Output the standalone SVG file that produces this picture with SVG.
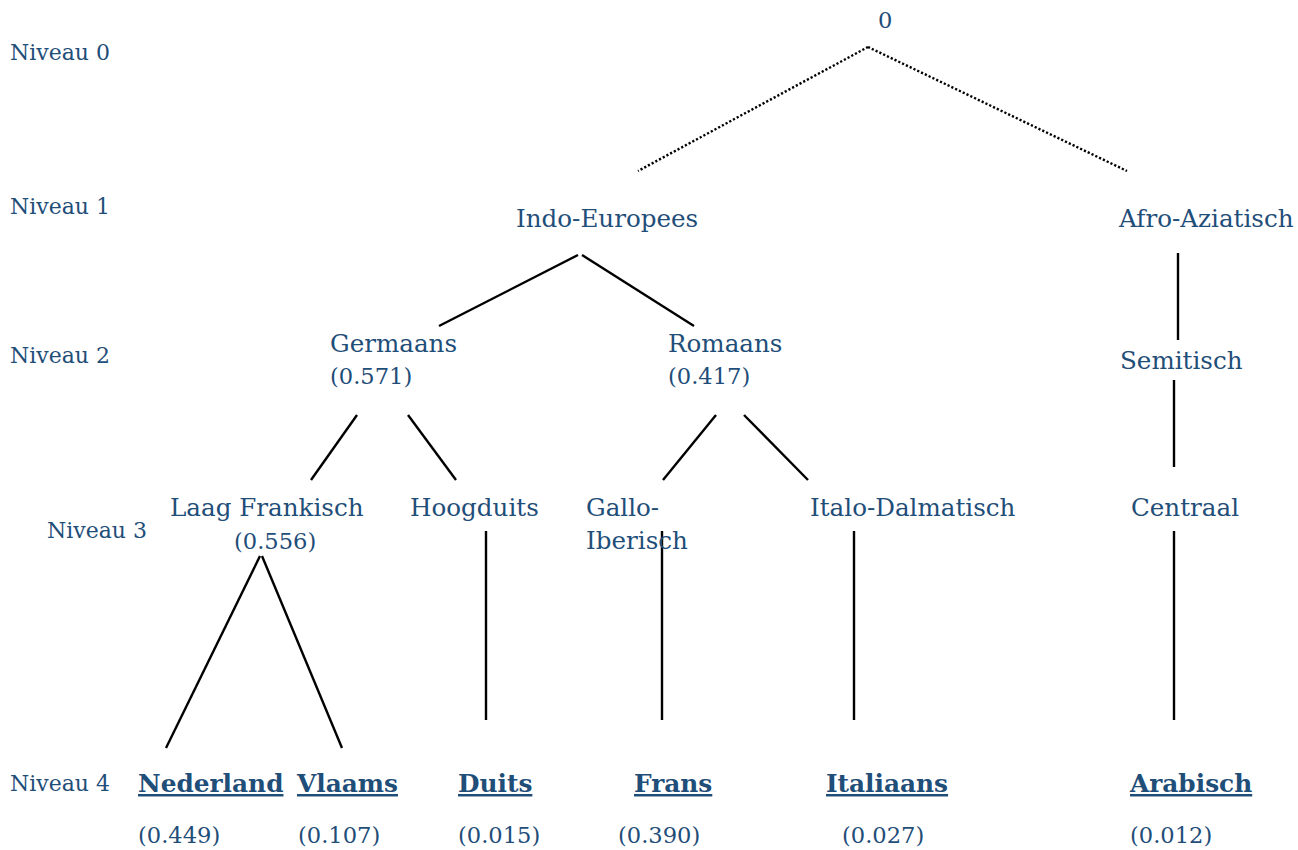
<svg xmlns="http://www.w3.org/2000/svg" width="1298" height="850" viewBox="0 0 1298 850">
<style>
text{font-family:"DejaVu Serif","Liberation Serif",serif;fill:#1f4e79}
.n{font-size:24.6px}
.v{font-size:22.6px}
.lv{font-size:22px}
.b{font-size:24.8px;font-weight:bold;text-decoration:underline}
.c line{stroke:#000;stroke-width:2.4}
.c .d{stroke-dasharray:2.2 2;stroke-width:2.4}
</style>
<rect width="1298" height="850" fill="#fff"/>
<g id="levels">
<text class="lv" x="10" y="60">Niveau 0</text>
<text class="lv" x="10" y="214">Niveau 1</text>
<text class="lv" x="10" y="363">Niveau 2</text>
<text class="lv" x="47" y="538">Niveau 3</text>
<text class="lv" x="10" y="791">Niveau 4</text>
</g>
<g class="c" id="connectors">
<line class="d" x1="868" y1="47" x2="638" y2="171"/>
<line class="d" x1="868" y1="47" x2="1127" y2="171"/>
<line x1="578" y1="255" x2="439" y2="326"/>
<line x1="582" y1="255" x2="694" y2="326"/>
<line x1="1178" y1="253" x2="1178" y2="340"/>
<line x1="1174" y1="380" x2="1174" y2="467"/>
<line x1="357" y1="415" x2="311" y2="480"/>
<line x1="408" y1="415" x2="456" y2="480"/>
<line x1="716" y1="415" x2="663" y2="480"/>
<line x1="744" y1="415" x2="808" y2="480"/>
<line x1="260" y1="556" x2="166" y2="748"/>
<line x1="262" y1="556" x2="342" y2="748"/>
<line x1="486" y1="531" x2="486" y2="720"/>
<line x1="662" y1="531" x2="662" y2="720"/>
<line x1="854" y1="531" x2="854" y2="720"/>
<line x1="1174" y1="531" x2="1174" y2="720"/>
</g>
<g id="root"><text class="v" x="878" y="28">0</text></g>
<g id="indo"><text class="n" x="516" y="227">Indo-Europees</text></g>
<g id="afro"><text class="n" x="1119" y="227">Afro-Aziatisch</text></g>
<g id="germaans"><text class="n" x="330" y="352">Germaans</text><text class="v" x="330" y="384">(0.571)</text></g>
<g id="romaans"><text class="n" x="668" y="352">Romaans</text><text class="v" x="668" y="384">(0.417)</text></g>
<g id="semitisch"><text class="n" x="1120" y="369">Semitisch</text></g>
<g id="laagfrankisch"><text class="n" x="170" y="516">Laag Frankisch</text><text class="v" x="234" y="549">(0.556)</text></g>
<g id="hoogduits"><text class="n" x="410" y="516">Hoogduits</text></g>
<g id="galloiberisch"><text class="n" x="586" y="516">Gallo-</text><text class="n" x="586" y="549">Iberisch</text></g>
<g id="italodalmatisch"><text class="n" x="810" y="516">Italo-Dalmatisch</text></g>
<g id="centraal"><text class="n" x="1131" y="516">Centraal</text></g>
<g id="nederland"><text class="b" x="138" y="792">Nederland</text><text class="v" x="138" y="843">(0.449)</text></g>
<g id="vlaams"><text class="b" x="297" y="792">Vlaams</text><text class="v" x="298" y="843">(0.107)</text></g>
<g id="duits"><text class="b" x="458" y="792">Duits</text><text class="v" x="458" y="843">(0.015)</text></g>
<g id="frans"><text class="b" x="634" y="792">Frans</text><text class="v" x="618" y="843">(0.390)</text></g>
<g id="italiaans"><text class="b" x="826" y="792">Italiaans</text><text class="v" x="842" y="843">(0.027)</text></g>
<g id="arabisch"><text class="b" x="1130" y="792">Arabisch</text><text class="v" x="1130" y="843">(0.012)</text></g>
</svg>
